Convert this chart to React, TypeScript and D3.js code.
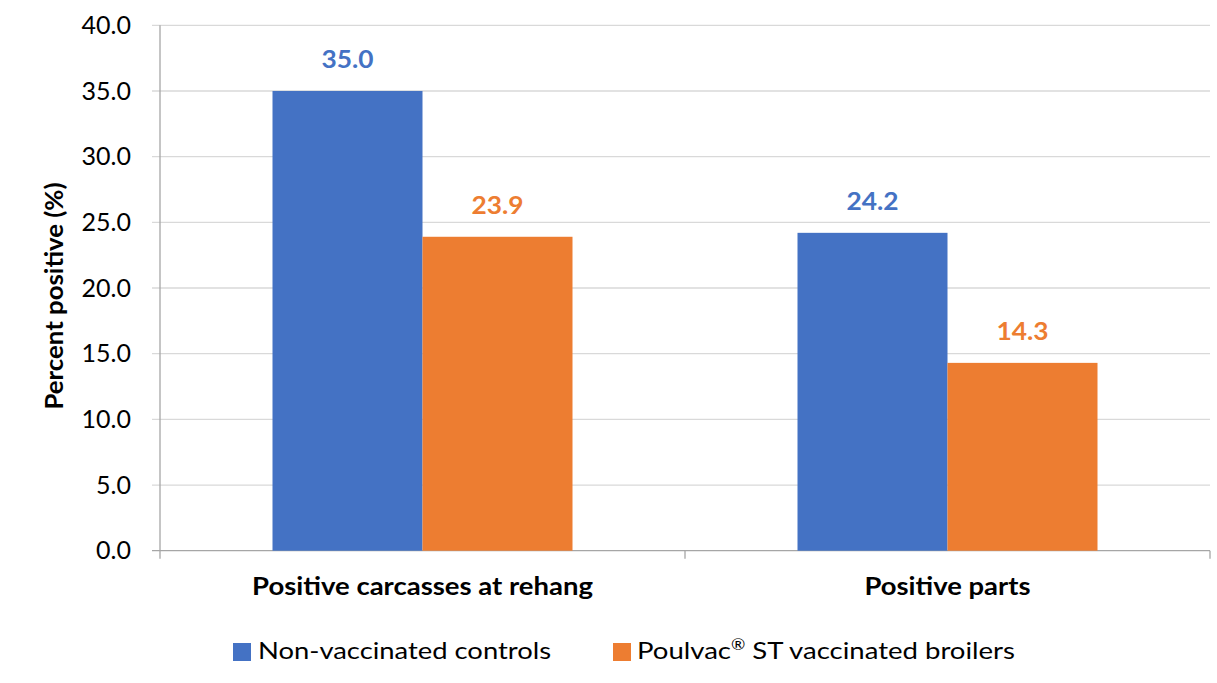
import React from "react";
import * as d3 from "d3";

const categories = ["Positive carcasses at rehang", "Positive parts"];
const seriesNames = ["Non-vaccinated controls", "Poulvac\u00AE ST vaccinated broilers"];
const nonVaccinated = [35.0, 24.2];
const vaccinated = [23.9, 14.3];
const yTicks = [0, 5, 10, 15, 20, 25, 30, 35, 40];
const colors = ["#4472C4", "#ED7D31"];

const W = 1217;
const H = 683;
const M = { left: 160, right: 1210, top: 25.3, bottom: 550.7 };
const FONT = "Lato, 'Open Sans', sans-serif";
const catWidths = [341, 166];
const legendWidths = [293, 378];

export default function App() {
  const y = d3.scaleLinear().domain([0, 40]).range([M.bottom, M.top]);
  const x = d3.scaleBand<string>().domain(categories).range([M.left, M.right]).paddingInner(0).paddingOuter(0);
  const bw = x.bandwidth();
  const barW = 150;
  const xs = d3.scaleBand<string>().domain(seriesNames).range([0, barW * 2]);
  const series = [nonVaccinated, vaccinated];

  return (
    <svg width={W} height={H} style={{ position: "absolute", left: 0, top: 0, background: "#fff" }}>
      {yTicks.map((t) => (
        <g key={t}>
          <line x1={152} x2={M.right} y1={y(t)} y2={y(t)} stroke={t === 0 ? "#a6a6a6" : "#d9d9d9"} strokeWidth={1.3} />
          <text x={131} y={y(t)} dy="0.35em" textAnchor="end" fontFamily={FONT} fontSize={25} fill="#000">
            {t.toFixed(1)}
          </text>
        </g>
      ))}
      <line x1={M.left} x2={M.left} y1={M.top} y2={M.bottom + 8} stroke="#a6a6a6" strokeWidth={1.3} />
      {categories.map((c, i) => (
        <line key={"t" + i} x1={(x(c) as number) + bw} x2={(x(c) as number) + bw} y1={M.bottom} y2={M.bottom + 8} stroke="#a6a6a6" strokeWidth={1.3} />
      ))}
      {categories.map((c, ci) => {
        const gx = (x(c) as number) + bw / 2 - barW;
        return (
          <g key={c}>
            {series.map((s, si) => {
              const bx = gx + (xs(seriesNames[si]) as number);
              return (
                <g key={si}>
                  <rect x={bx} y={y(s[ci])} width={xs.bandwidth()} height={M.bottom - y(s[ci])} fill={colors[si]} />
                  <text x={bx + xs.bandwidth() / 2} y={y(s[ci]) - 23} textAnchor="middle" fontFamily={FONT} fontSize={24} fontWeight={700} fill={colors[si]} textLength={52} lengthAdjust="spacingAndGlyphs">
                    {s[ci].toFixed(1)}
                  </text>
                </g>
              );
            })}
            <text x={(x(c) as number) + bw / 2} y={595} textAnchor="middle" fontFamily={FONT} fontSize={24} fontWeight={700} fill="#000" textLength={catWidths[ci]} lengthAdjust="spacingAndGlyphs">
              {c}
            </text>
          </g>
        );
      })}
      <text transform={`translate(63,${296}) rotate(-90)`} textAnchor="middle" fontFamily={FONT} fontSize={24} fontWeight={700} fill="#000" textLength={227} lengthAdjust="spacingAndGlyphs">
        Percent positive (%)
      </text>
      <g>
        <rect x={233} y={643} width={18} height={18} fill={colors[0]} />
        <text x={258} y={659} fontFamily={FONT} fontSize={24} fill="#000" textLength={legendWidths[0]} lengthAdjust="spacingAndGlyphs">
          {seriesNames[0]}
        </text>
      </g>
      <g>
        <rect x={613} y={643} width={18} height={18} fill={colors[1]} />
        <text x={637} y={659} fontFamily={FONT} fontSize={24} fill="#000" textLength={legendWidths[1]} lengthAdjust="spacingAndGlyphs">
          {"Poulvac"}
          <tspan fontSize={15} dy={-9}>{"\u00AE"}</tspan>
          <tspan dy={9}>{" ST vaccinated broilers"}</tspan>
        </text>
      </g>
    </svg>
  );
}
